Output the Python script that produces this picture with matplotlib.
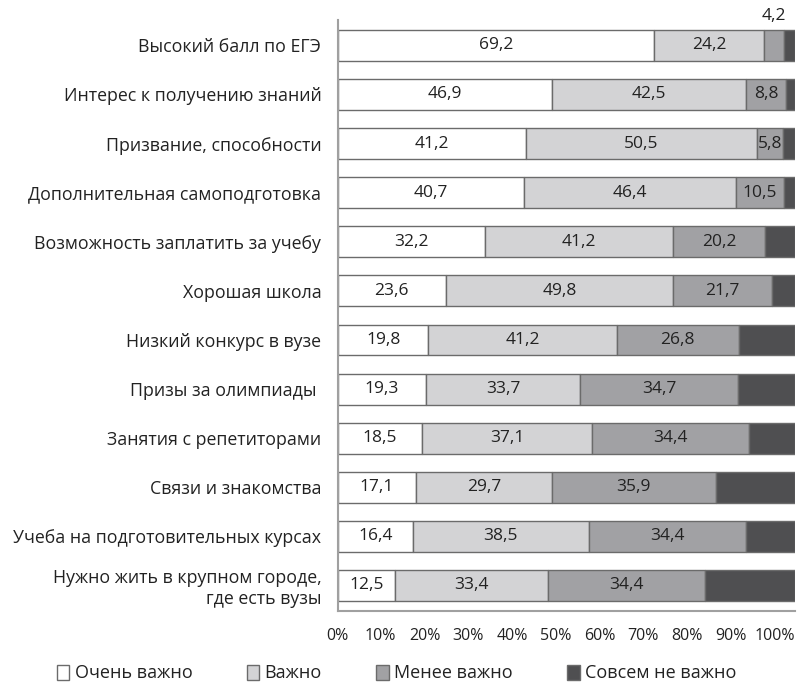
import numpy as np
import matplotlib
matplotlib.use("Agg")
import matplotlib.pyplot as plt
from matplotlib.transforms import ScaledTranslation

categories = [
    "Высокий балл по ЕГЭ",
    "Интерес к получению знаний",
    "Призвание, способности",
    "Дополнительная самоподготовка",
    "Возможность заплатить за учебу",
    "Хорошая школа",
    "Низкий конкурс в вузе",
    "Призы за олимпиады ",
    "Занятия с репетиторами",
    "Связи и знакомства",
    "Учеба на подготовительных курсах",
    "Нужно жить в крупном городе,\nгде есть вузы",
]
very_important = [69.2, 46.9, 41.2, 40.7, 32.2, 23.6, 19.8, 19.3, 18.5, 17.1, 16.4, 12.5]
important = [24.2, 42.5, 50.5, 46.4, 41.2, 49.8, 41.2, 33.7, 37.1, 29.7, 38.5, 33.4]
less_important = [4.2, 8.8, 5.8, 10.5, 20.2, 21.7, 26.8, 34.7, 34.4, 35.9, 34.4, 34.4]
not_important = [2.4, 1.8, 2.5, 2.4, 6.4, 4.9, 12.2, 12.3, 10.0, 17.3, 10.7, 19.7]

series_names = ["Очень важно", "Важно", "Менее важно", "Совсем не важно"]
colors = ["#ffffff", "#d3d3d5", "#a1a1a4", "#4f4f51"]
ticks = np.arange(0, 101, 10)

plt.rcParams["font.family"] = ["Open Sans", "DejaVu Sans"]
txt = "#222222"

fig = plt.figure(figsize=(7.97, 6.85), dpi=100)
ax = fig.add_axes([0.424, 0.108, 0.573, 0.863])

y = np.arange(len(categories))
data = [very_important, important, less_important, not_important]
left = np.zeros(len(categories))
for k, vals in enumerate(data):
    vals = np.array(vals)
    ax.barh(y, vals, left=left, height=0.63, color=colors[k], edgecolor="#6b6b6b",
            linewidth=1.0, label=series_names[k])
    if k < 3:
        for i, v in enumerate(vals):
            if k == 2 and v < 5:
                ax.text(left[i] + v / 2, i - 0.44, f"{v:.1f}".replace(".", ","),
                        ha="center", va="bottom", fontsize=12.5, color=txt)
            else:
                ax.text(left[i] + v / 2, i, f"{v:.1f}".replace(".", ","),
                        ha="center", va="center", fontsize=12.5, color=txt)
    left += vals

ax.set_ylim(len(categories) - 0.48, -0.52)
ax.set_xlim(0, 100)
ax.set_yticks(y)
ax.set_yticklabels(categories, fontsize=12.8, color=txt)
ax.set_xticks(ticks)
ax.set_xticklabels([f"{t}%" for t in ticks], fontsize=11.5, color=txt)
ax.tick_params(axis="both", length=0)
ax.tick_params(axis="y", pad=12)
ax.tick_params(axis="x", pad=12)
# labels in the source sit a little left of their ticks
for t, lab in zip(ticks, ax.get_xticklabels()):
    dx = -(1 + 0.19 * t) / 100
    lab.set_transform(lab.get_transform() + ScaledTranslation(dx, 0, fig.dpi_scale_trans))
for s in ["top", "right"]:
    ax.spines[s].set_visible(False)
for s in ["left", "bottom"]:
    ax.spines[s].set_color("#a0a0a0")
    ax.spines[s].set_linewidth(1.5)

handles, labels = ax.get_legend_handles_labels()
fig.legend(handles, labels, loc="center", bbox_to_anchor=(0.4975, 0.017), ncol=4,
           frameon=False, fontsize=13, handlelength=0.7, handleheight=0.9,
           handletextpad=0.3, columnspacing=3.0, labelcolor=txt,
           borderpad=0, borderaxespad=0)

fig.savefig("out.png", dpi=100)
